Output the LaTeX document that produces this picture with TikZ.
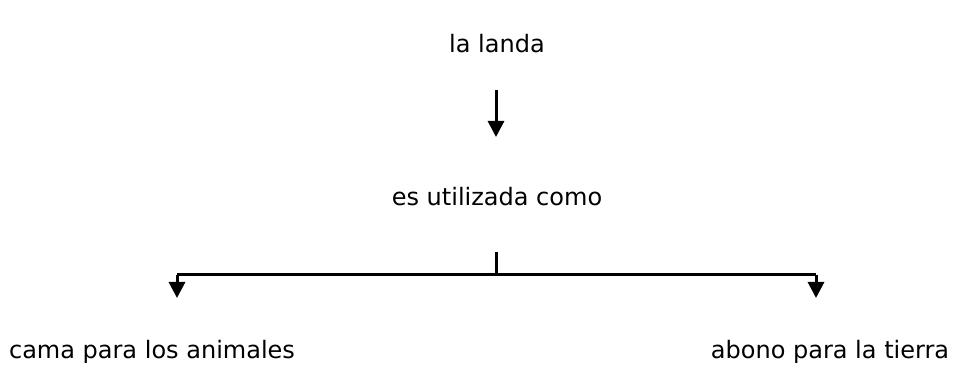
\documentclass[tikz,border=0pt]{standalone}
\usepackage{fontspec}
\setmainfont{DejaVu Sans}
\usetikzlibrary{arrows.meta}
\begin{document}
\begin{tikzpicture}[x=1pt,y=-1pt,
  lbl/.style={font=\fontsize{24}{28}\selectfont, inner sep=0pt, anchor=base},
  conn/.style={line width=3pt},
  arr/.style={conn,-{Triangle[width=16pt,length=16pt]}}]
\useasboundingbox (0,0) rectangle (967,374);
\node[lbl] (top) at (497,53) {la landa};
\node[lbl] (mid) at (497,206) {es utilizada como};
\node[lbl] (left) at (152,358) {cama para los animales};
\node[lbl] (right) at (830,358) {abono para la tierra};
\coordinate (a1s) at (496,90);
\coordinate (a1e) at (496,137);
\coordinate (stub) at (496,252);
\coordinate (junc) at (496,275);
\coordinate (lc) at (177,275);
\coordinate (rc) at (816,275);
\coordinate (lt) at (177,298);
\coordinate (rt) at (816,298);
\draw[arr] (a1s) -- (a1e);
\draw[conn] (stub) -- (junc);
\draw[conn] (lc) -- (rc);
\draw[arr] (lc) -- (lt);
\draw[arr] (rc) -- (rt);
\end{tikzpicture}
\end{document}
